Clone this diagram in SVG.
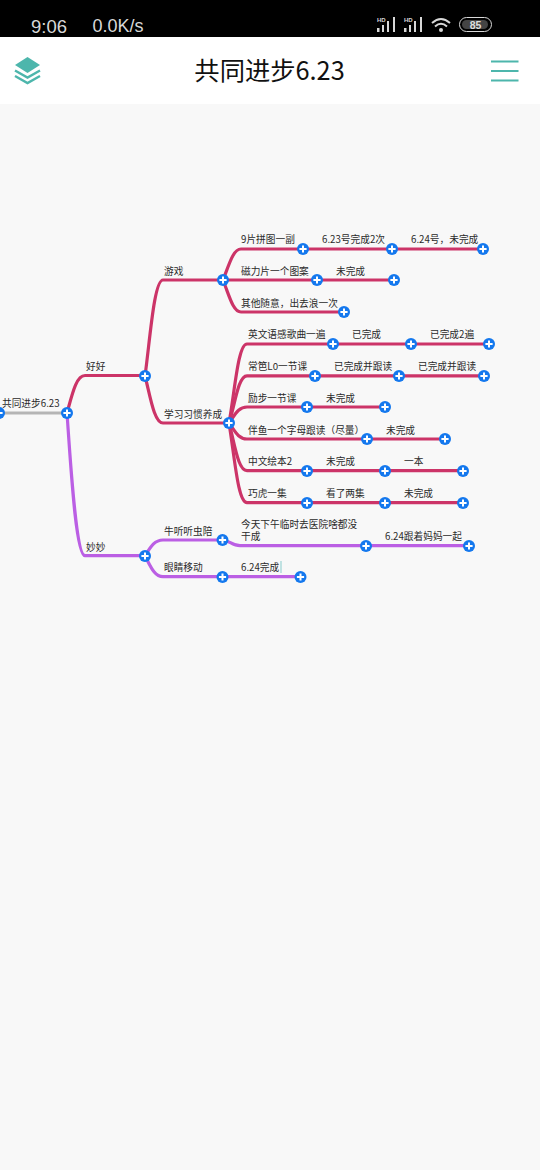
<svg xmlns="http://www.w3.org/2000/svg" width="540" height="1170" viewBox="0 0 540 1170">
<style>
.t{font-family:"Noto Sans CJK SC","Liberation Sans",sans-serif;font-size:9.7px;fill:#2a2a2a}
.st{font-family:"Liberation Sans",sans-serif;font-size:19px;fill:#d8d8d8}
.c{fill:none;stroke-width:3.2px;stroke-linecap:round}
.r{stroke:#cc3468}.p{stroke:#bb5fe4}.g{stroke:#b5b5b5}
.ico{fill:none;stroke:#4db6ac;stroke-width:2.400px}
</style>
<defs>
<g id="plus"><circle r="6" fill="#1478ee"/><path d="M-3.600 0H3.600M0-3.600V3.600" stroke="#fff" stroke-width="2"/></g>
</defs>
<rect width="540" height="1170" fill="#f8f8f8"/>
<g id="statusbar">
<rect width="540" height="37" fill="#000"/>
<text x="31" y="33" class="st" style="font-size:18.500px">9:06</text>
<text x="92.500" y="32" class="st" style="font-size:18px">0.0K/s</text>
<g fill="#d8d8d8">
<text x="377" y="22" style="font-family:'Liberation Sans',sans-serif;font-size:6px;font-weight:bold">HD</text>
<rect x="377" y="28" width="2.500" height="4"/><rect x="382" y="25" width="2" height="7"/><rect x="387" y="21" width="2" height="11"/><rect x="393" y="17" width="2" height="15"/>
<text x="404" y="22" style="font-family:'Liberation Sans',sans-serif;font-size:6px;font-weight:bold">HD</text>
<rect x="404" y="28" width="2.500" height="4"/><rect x="409" y="25" width="2" height="7"/><rect x="414" y="21" width="2" height="11"/><rect x="420" y="17" width="2" height="15"/>
<circle cx="441" cy="30" r="2"/>
</g>
<path d="M432 23Q441 15 450 23M435 26.500Q441 21 447 26.500" fill="none" stroke="#d8d8d8" stroke-width="2"/>
<rect x="459.500" y="17.500" width="32" height="14" rx="7" fill="none" stroke="#d8d8d8"/>
<rect x="462" y="20" width="26" height="9" rx="4.500" fill="#444"/>
<text x="475.500" y="29" text-anchor="middle" style="font-family:'Liberation Sans',sans-serif;font-size:10.500px;font-weight:bold;fill:#ddd">85</text>
</g>
<g id="appbar">
<rect y="37" width="540" height="67" fill="#fff"/>
<path d="M27.500 57L40 65L27.500 73L15 65Z" fill="#4db6ac"/>
<path d="M15 70.500L27.500 77.500L40 70.500M15 76L27.500 83L40 76" class="ico"/>
<text x="269.500" y="80" text-anchor="middle" style="font-family:'Noto Sans CJK SC','Liberation Sans',sans-serif;font-size:25.300px;fill:#111">共同进步6.23</text>
<path d="M491 61.500H518.500M491 71H518.500M491 80.500H518.500" fill="none" stroke="#4db6ac" stroke-width="2"/>
</g>
<g id="connectors">
<path class="c g" d="M0 413H67"/>
<path class="c r" d="M67 413C72 395 76 375.500 85 375.500H145"/>
<path class="c p" d="M67 413C71 470 76 555.700 85 555.700H145"/>
<path class="c r" d="M145 376C150 340 154 280 163 280H223"/>
<path class="c r" d="M145 376C150 395 154 423 163 423H229"/>
<path class="c r" d="M223 280C229 265 233 249 241 249H483"/>
<path class="c r" d="M223 280H394"/>
<path class="c r" d="M223 280C229 295 233 312 241 312H344"/>
<path class="c r" d="M229 423C235 390 238 344 247 344H489"/>
<path class="c r" d="M229 423C235 405 238 375.800 247 375.800H484"/>
<path class="c r" d="M229 423C235 415 238 407 247 407H385"/>
<path class="c r" d="M229 423C235 431 238 439 247 439H445"/>
<path class="c r" d="M229 423C235 445 238 470.700 247 470.700H463"/>
<path class="c r" d="M229 423C235 460 238 502.700 247 502.700H463"/>
<path class="c p" d="M145 556C150 548 154 540 163 540H222C229 540 232 545.700 240 545.700H469"/>
<path class="c p" d="M145 556C150 565 154 576.700 163 576.700H300"/>
</g>
<g id="n-root"><use href="#plus" x="-1" y="413"/><text class="t" x="2" y="407">共同进步6.23</text><use href="#plus" x="67" y="413"/></g>
<g id="n-haohao"><text class="t" x="86" y="370">好好</text><use href="#plus" x="145" y="376"/></g>
<g id="n-miaomiao"><text class="t" x="86" y="551">妙妙</text><use href="#plus" x="145" y="556"/></g>
<g id="n-youxi"><text class="t" x="164" y="275">游戏</text><use href="#plus" x="223" y="280"/></g>
<g id="n-xuexi"><text class="t" x="164" y="417.500">学习习惯养成</text><use href="#plus" x="229" y="423"/></g>
<g id="n-a1"><text class="t" x="241" y="243">9片拼图一副</text><use href="#plus" x="303" y="249"/></g>
<g id="n-a2"><text class="t" x="322" y="243">6.23号完成2次</text><use href="#plus" x="392" y="249"/></g>
<g id="n-a3"><text class="t" x="411" y="243">6.24号，未完成</text><use href="#plus" x="483" y="249"/></g>
<g id="n-b1"><text class="t" x="241" y="275">磁力片一个图案</text><use href="#plus" x="317" y="280"/></g>
<g id="n-b2"><text class="t" x="336" y="275">未完成</text><use href="#plus" x="394" y="280"/></g>
<g id="n-c1"><text class="t" x="241" y="306.500">其他随意，出去浪一次</text><use href="#plus" x="344" y="312"/></g>
<g id="n-d1"><text class="t" x="248" y="338">英文语感歌曲一遍</text><use href="#plus" x="333" y="344"/></g>
<g id="n-d2"><text class="t" x="352" y="338">已完成</text><use href="#plus" x="411" y="344"/></g>
<g id="n-d3"><text class="t" x="430" y="338">已完成2遍</text><use href="#plus" x="489" y="344"/></g>
<g id="n-e1"><text class="t" x="248" y="370">常笆L0一节课</text><use href="#plus" x="315" y="376"/></g>
<g id="n-e2"><text class="t" x="334" y="370">已完成并跟读</text><use href="#plus" x="399" y="376"/></g>
<g id="n-e3"><text class="t" x="418" y="370">已完成并跟读</text><use href="#plus" x="484" y="376"/></g>
<g id="n-f1"><text class="t" x="248" y="401.500">励步一节课</text><use href="#plus" x="307" y="407"/></g>
<g id="n-f2"><text class="t" x="326" y="401.500">未完成</text><use href="#plus" x="385" y="407"/></g>
<g id="n-g1"><text class="t" x="248" y="433.500">伴鱼一个字母跟读（尽量）</text><use href="#plus" x="367" y="439"/></g>
<g id="n-g2"><text class="t" x="386" y="433.500">未完成</text><use href="#plus" x="445" y="439"/></g>
<g id="n-h1"><text class="t" x="248" y="465">中文绘本2</text><use href="#plus" x="307" y="471"/></g>
<g id="n-h2"><text class="t" x="326" y="465">未完成</text><use href="#plus" x="385" y="471"/></g>
<g id="n-h3"><text class="t" x="404" y="465">一本</text><use href="#plus" x="463" y="471"/></g>
<g id="n-i1"><text class="t" x="248" y="497">巧虎一集</text><use href="#plus" x="307" y="503"/></g>
<g id="n-i2"><text class="t" x="326" y="497">看了两集</text><use href="#plus" x="385" y="503"/></g>
<g id="n-i3"><text class="t" x="404" y="497">未完成</text><use href="#plus" x="463" y="503"/></g>
<g id="n-j1"><text class="t" x="164" y="534.500">牛听听虫陪</text><use href="#plus" x="222.500" y="540"/></g>
<g id="n-j2"><text class="t"><tspan x="241" y="528">今天下午临时去医院啥都没</tspan><tspan x="241" y="540">干成</tspan></text><use href="#plus" x="366" y="546"/></g>
<g id="n-j3"><text class="t" x="385" y="540">6.24跟着妈妈一起</text><use href="#plus" x="469" y="546"/></g>
<g id="n-k1"><text class="t" x="164" y="571">眼睛移动</text><use href="#plus" x="222.500" y="577"/></g>
<g id="n-k2"><text class="t" x="241" y="571">6.24完成</text><path d="M281 561V573" stroke="#8cc" stroke-width="1"/><use href="#plus" x="300.500" y="577"/></g>
</svg>
